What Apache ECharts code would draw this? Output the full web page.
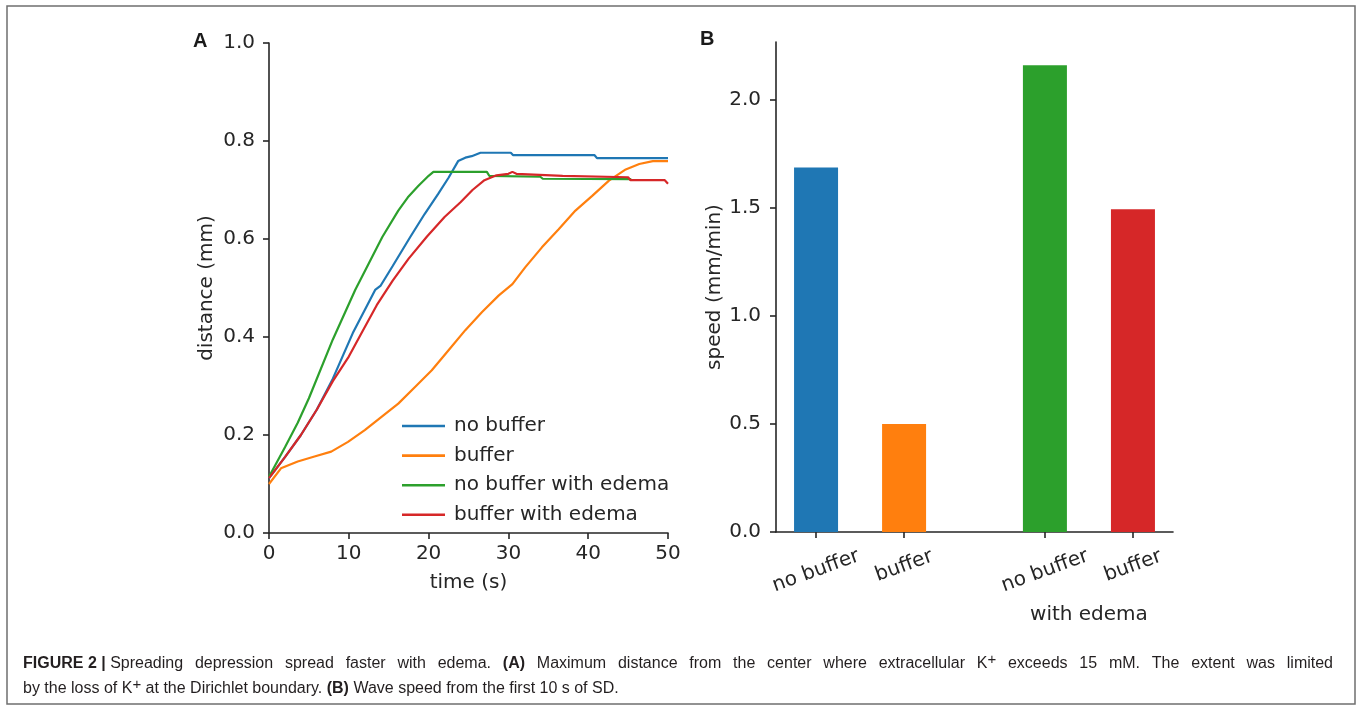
<!DOCTYPE html>
<html>
<head>
<meta charset="utf-8">
<script src="https://cdn.jsdelivr.net/npm/echarts@6/dist/echarts.min.js"></script>
<style>
html,body{margin:0;padding:0;background:#fff;}
#chart{width:1357px;height:708px;}
</style>
</head>
<body>
<div id="chart"></div>
<script>
// ---- Panel A: distance vs time ----
const seriesNames = ['no buffer', 'buffer', 'no buffer with edema', 'buffer with edema'];
const seriesColors = ['#1f77b4', '#ff7f0e', '#2ca02c', '#d62728'];

const timeNoBuffer = [0, 2, 4, 6, 8, 10.5, 12, 13.3, 14, 15.5, 17.7, 19.5, 21.2, 22.5, 23.7, 24.6, 25.4, 26.5, 30.3, 30.6, 40.8, 41.1, 50];
const distNoBuffer = [0.112, 0.155, 0.2, 0.252, 0.315, 0.408, 0.455, 0.496, 0.505, 0.545, 0.604, 0.651, 0.692, 0.725, 0.759, 0.766, 0.769, 0.776, 0.776, 0.771, 0.771, 0.765, 0.765];

const timeBuffer = [0, 1.5, 3.6, 5.7, 7.8, 9.9, 12, 14.1, 16.2, 18.3, 20.4, 22.5, 24.6, 26.7, 28.8, 30.5, 32.1, 34.2, 36.3, 38.4, 40.5, 42.6, 44.7, 46.4, 48.1, 50];
const distBuffer = [0.10, 0.132, 0.146, 0.156, 0.166, 0.186, 0.21, 0.237, 0.264, 0.298, 0.332, 0.373, 0.414, 0.451, 0.485, 0.508, 0.542, 0.583, 0.62, 0.658, 0.688, 0.719, 0.742, 0.753, 0.759, 0.759];

const timeNoBufferEdema = [0, 2, 3.6, 5, 8, 10.8, 12.5, 14.2, 16.2, 17.4, 18.7, 20, 20.6, 27.3, 27.6, 34, 34.3, 45.4];
const distNoBufferEdema = [0.115, 0.175, 0.225, 0.275, 0.395, 0.496, 0.55, 0.604, 0.658, 0.685, 0.708, 0.729, 0.737, 0.737, 0.729, 0.727, 0.723, 0.722];

const timeBufferEdema = [0, 2, 4, 6, 8, 10, 11.6, 13.5, 15.5, 17.5, 19.8, 22, 24, 25.5, 27, 28.5, 30, 30.5, 31, 36.8, 37, 45, 45.3, 49.6, 50];
const distBufferEdema = [0.112, 0.155, 0.2, 0.252, 0.31, 0.36, 0.408, 0.465, 0.515, 0.56, 0.605, 0.645, 0.675, 0.70, 0.72, 0.73, 0.733, 0.737, 0.733, 0.729, 0.726, 0.726, 0.72, 0.72, 0.713];

const timeTicks = [0, 10, 20, 30, 40, 50];
const distTicks = [0.0, 0.2, 0.4, 0.6, 0.8, 1.0];

// ---- Panel B: speed bars ----
const barLabels = ['no buffer', 'buffer', 'no buffer', 'buffer'];
const barPositions = [0, 1, 2.6, 3.6];
const barSpeeds = [1.687, 0.5, 2.16, 1.494];
const barColors = ['#1f77b4', '#ff7f0e', '#2ca02c', '#d62728'];
const speedTicks = [0.0, 0.5, 1.0, 1.5, 2.0];
const groupLabel = 'with edema';

// ---- Caption ----
const captionLine1 = [
  ['FIGURE\u00a02\u00a0|', 'b'],
  ['\u00a0Spreading depression spread faster with edema. ', 'n'],
  ['(A)', 'b'],
  [' Maximum distance from the center where extracellular K', 'n'],
  ['+', 'sup'],
  [' exceeds 15 mM. The extent was limited', 'n']
];
const captionLine2 = [
  ['by the loss of K', 'n'],
  ['+', 'sup'],
  [' at the Dirichlet boundary. ', 'n'],
  ['(B)', 'b'],
  [' Wave speed from the first 10 s of SD.', 'n']
];

const lineTimes = [timeNoBuffer, timeBuffer, timeNoBufferEdema, timeBufferEdema];
const lineDists = [distNoBuffer, distBuffer, distNoBufferEdema, distBufferEdema];

const FONT = 'DejaVu Sans';
const CAP_FONT = 'Liberation Sans';
const CAP_SIZE = 16;
const SUP_SIZE = 15;
const INK = '#262626';
const CAP_INK = '#231f20';
const axisLineStyle = { color: '#262626', width: 1.6 };

// measure helper for the justified caption line
const mctx = document.createElement('canvas').getContext('2d');
function fontFor(s) {
  if (s === 'b') return 'bold ' + CAP_SIZE + 'px "' + CAP_FONT + '"';
  if (s === 'sup') return SUP_SIZE + 'px "' + CAP_FONT + '"';
  return CAP_SIZE + 'px "' + CAP_FONT + '"';
}
function buildCaption(segments, targetWidth) {
  const toks = [];
  segments.forEach(([txt, st]) => {
    txt.split(/( )/).forEach(p => { if (p !== '') toks.push([p, st]); });
  });
  let natural = 0, nSpaces = 0;
  toks.forEach(([p, st]) => {
    mctx.font = fontFor(st);
    natural += mctx.measureText(p).width;
    if (p === ' ') nSpaces++;
  });
  mctx.font = fontFor('n');
  const spW = mctx.measureText(' ').width;
  const extra = targetWidth ? (targetWidth - natural) / nSpaces : 0;
  const text = toks.map(([p, st]) => p === ' ' ? '{sp|\u00a0}' : '{' + st + '|' + p + '}').join('');
  const rich = {
    n: { fontSize: CAP_SIZE, fontFamily: CAP_FONT, fill: CAP_INK, lineHeight: 20, verticalAlign: 'bottom' },
    b: { fontSize: CAP_SIZE, fontFamily: CAP_FONT, fontWeight: 'bold', fill: CAP_INK, lineHeight: 20, verticalAlign: 'bottom' },
    sp: { fontSize: CAP_SIZE, fontFamily: CAP_FONT, fill: CAP_INK, lineHeight: 20, width: spW + extra, verticalAlign: 'bottom' },
    sup: { fontSize: SUP_SIZE, fontFamily: CAP_FONT, fill: CAP_INK, lineHeight: 12, verticalAlign: 'top' }
  };
  return { text, rich };
}
const cap1 = buildCaption(captionLine1, 1310);
const cap2 = buildCaption(captionLine2, 0);

const chart = echarts.init(document.getElementById('chart'), null, { renderer: 'canvas' });

const lineSeries = seriesNames.map((name, i) => ({
  name: name,
  type: 'line',
  xAxisIndex: 0,
  yAxisIndex: 0,
  data: lineTimes[i].map((t, j) => [t, lineDists[i][j]]),
  symbol: 'none',
  showSymbol: false,
  lineStyle: { width: 2.2, color: seriesColors[i] },
  itemStyle: { color: seriesColors[i] },
  z: 2 + i
}));

const noBufPos = barPositions.filter((p, i) => barLabels[i] === 'no buffer');
const bufPos = barPositions.filter((p, i) => barLabels[i] === 'buffer');
const groupPos = (barPositions[2] + barPositions[3]) / 2;
const xMinB = -0.455, xMaxB = 4.055;

function labelAt(v) {
  const idx = barPositions.findIndex(p => Math.abs(p - v) < 1e-6);
  return idx >= 0 ? barLabels[idx] : '';
}

const option = {
  animation: false,
  backgroundColor: '#fff',
  textStyle: { fontFamily: FONT },
  grid: [
    { left: 269, top: 43, width: 399, height: 490, containLabel: false },
    { left: 776, top: 42, width: 397, height: 490, containLabel: false }
  ],
  legend: {
    orient: 'vertical',
    left: 397,
    top: 411,
    icon: 'rect',
    itemWidth: 43,
    itemHeight: 2.6,
    itemGap: 9.6,
    data: seriesNames,
    textStyle: { fontSize: 20, color: INK, fontFamily: FONT, padding: [0, 0, 0, 4], lineHeight: 20 }
  },
  xAxis: [
    {
      gridIndex: 0, type: 'value', min: timeTicks[0], max: timeTicks[timeTicks.length - 1], interval: 10,
      axisLine: { show: true, onZero: false, lineStyle: axisLineStyle },
      axisTick: { show: true, inside: false, length: 6, lineStyle: axisLineStyle },
      axisLabel: { fontSize: 20, color: INK, margin: 11, fontFamily: FONT },
      splitLine: { show: false },
      name: 'time (s)', nameLocation: 'middle', nameGap: 40,
      nameTextStyle: { fontSize: 20, color: INK, fontFamily: FONT }
    },
    {
      gridIndex: 1, type: 'value', min: xMinB, max: xMaxB, position: 'bottom',
      axisLine: { show: true, onZero: false, lineStyle: axisLineStyle },
      axisTick: { show: true, inside: false, length: 6, lineStyle: axisLineStyle, customValues: barPositions },
      axisLabel: {
        show: true, customValues: noBufPos, formatter: v => labelAt(v),
        rotate: 20, align: 'center', verticalAlign: 'middle', margin: 39,
        fontSize: 20, color: INK, fontFamily: FONT
      },
      splitLine: { show: false }
    },
    {
      gridIndex: 1, type: 'value', min: xMinB, max: xMaxB, position: 'bottom',
      axisLine: { show: false, onZero: false },
      axisTick: { show: false },
      axisLabel: {
        show: true, customValues: bufPos, formatter: v => labelAt(v),
        rotate: 20, align: 'center', verticalAlign: 'middle', margin: 34,
        fontSize: 20, color: INK, fontFamily: FONT
      },
      splitLine: { show: false }
    },
    {
      gridIndex: 1, type: 'value', min: xMinB, max: xMaxB, position: 'bottom',
      axisLine: { show: false, onZero: false },
      axisTick: { show: false },
      axisLabel: {
        show: true, customValues: [groupPos], formatter: () => groupLabel,
        align: 'center', verticalAlign: 'middle', margin: 83,
        fontSize: 20, color: INK, fontFamily: FONT
      },
      splitLine: { show: false }
    }
  ],
  yAxis: [
    {
      gridIndex: 0, type: 'value', min: distTicks[0], max: distTicks[distTicks.length - 1], interval: 0.2,
      axisLine: { show: true, onZero: false, lineStyle: axisLineStyle },
      axisTick: { show: true, inside: false, length: 6, lineStyle: axisLineStyle },
      axisLabel: { fontSize: 20, color: INK, margin: 14, fontFamily: FONT, formatter: v => v.toFixed(1) },
      splitLine: { show: false },
      name: 'distance (mm)', nameLocation: 'middle', nameGap: 52,
      nameTextStyle: { fontSize: 20, color: INK, fontFamily: FONT }
    },
    {
      gridIndex: 1, type: 'value', min: 0, max: 2.268,
      axisLine: { show: true, onZero: false, lineStyle: axisLineStyle },
      axisTick: { show: true, inside: false, length: 6, lineStyle: axisLineStyle, customValues: speedTicks },
      axisLabel: { fontSize: 20, color: INK, margin: 15, fontFamily: FONT, customValues: speedTicks, formatter: v => v.toFixed(1) },
      splitLine: { show: false },
      name: 'speed (mm/min)', nameLocation: 'middle', nameGap: 51,
      nameTextStyle: { fontSize: 20, color: INK, fontFamily: FONT }
    }
  ],
  series: lineSeries.concat([{
    name: 'speed',
    type: 'bar',
    xAxisIndex: 1,
    yAxisIndex: 1,
    barWidth: 44,
    data: barPositions.map((p, i) => ({ value: [p, barSpeeds[i]], itemStyle: { color: barColors[i] } }))
  }]),
  graphic: [
    {
      type: 'rect', silent: true, z: -1,
      shape: { x: 7, y: 6, width: 1348, height: 698 },
      style: { fill: 'none', stroke: '#6f6f6f', lineWidth: 1.5 }
    },
    {
      type: 'text', left: 193, top: 31,
      style: { text: 'A', fontSize: 20, fontWeight: 'bold', fontFamily: 'Liberation Sans', fill: '#1a1a1a' }
    },
    {
      type: 'text', left: 700, top: 29,
      style: { text: 'B', fontSize: 20, fontWeight: 'bold', fontFamily: 'Liberation Sans', fill: '#1a1a1a' }
    },
    {
      type: 'text', left: 23, top: 652,
      style: { text: cap1.text, rich: cap1.rich, fontSize: CAP_SIZE, fontFamily: CAP_FONT, fill: CAP_INK }
    },
    {
      type: 'text', left: 23, top: 677,
      style: { text: cap2.text, rich: cap2.rich, fontSize: CAP_SIZE, fontFamily: CAP_FONT, fill: CAP_INK }
    }
  ]
};

chart.setOption(option);
</script>
</body>
</html>
